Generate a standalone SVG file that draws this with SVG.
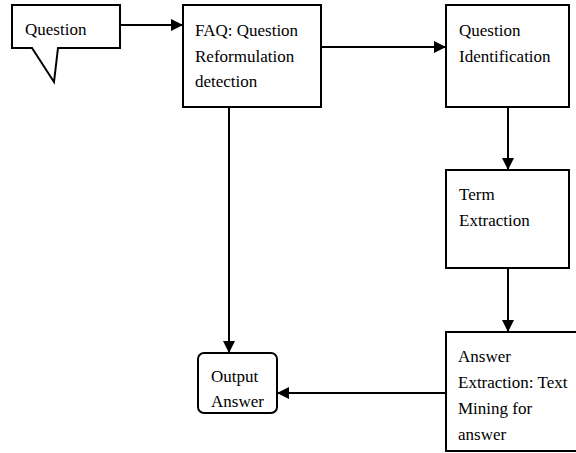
<svg xmlns="http://www.w3.org/2000/svg" width="576" height="453" viewBox="0 0 576 453">
<defs>
<style>
.box{fill:#fff;stroke:#000;stroke-width:2}
.c{fill:none;stroke:#000;stroke-width:2}
</style>
<marker id="ah" viewBox="0 0 12 12" refX="12" refY="6" markerWidth="12" markerHeight="12" markerUnits="userSpaceOnUse" orient="auto">
<path d="M0,0 L12,6 L0,12 Z" fill="#000"/>
</marker>
</defs>
<rect width="576" height="453" fill="#fff"/>
<g id="connectors">
<line class="c" x1="120" y1="25" x2="183" y2="25" marker-end="url(#ah)"/>
<line class="c" x1="321" y1="47" x2="446" y2="47" marker-end="url(#ah)"/>
<line class="c" x1="508" y1="107" x2="508" y2="170" marker-end="url(#ah)"/>
<line class="c" x1="508" y1="268" x2="508" y2="332" marker-end="url(#ah)"/>
<line class="c" x1="229" y1="107" x2="229" y2="353" marker-end="url(#ah)"/>
<line class="c" x1="446" y1="393" x2="277" y2="393" marker-end="url(#ah)"/>
</g>
<g id="question">
<path class="box" d="M12,5 H120 V48 H58 L54,82 L32,48 H12 Z"/>
<text x="25" y="35" font-family="Liberation Serif" font-size="17">Question</text>
</g>
<g id="faq">
<rect class="box" x="183" y="5" width="138" height="102"/>
<text x="195" y="36" font-family="Liberation Serif" font-size="17">FAQ: Question</text>
<text x="195" y="62" font-family="Liberation Serif" font-size="17">Reformulation</text>
<text x="195" y="87" font-family="Liberation Serif" font-size="17">detection</text>
</g>
<g id="qid">
<rect class="box" x="446" y="5" width="123" height="102"/>
<text x="459" y="36" font-family="Liberation Serif" font-size="17">Question</text>
<text x="459" y="62" font-family="Liberation Serif" font-size="17">Identification</text>
</g>
<g id="term">
<rect class="box" x="446" y="170" width="123" height="98"/>
<text x="459" y="200" font-family="Liberation Serif" font-size="17">Term</text>
<text x="459" y="226" font-family="Liberation Serif" font-size="17">Extraction</text>
</g>
<g id="answerext">
<rect class="box" x="446" y="332" width="132" height="119"/>
<text x="458" y="362" font-family="Liberation Serif" font-size="17">Answer</text>
<text x="458" y="388" font-family="Liberation Serif" font-size="17">Extraction: Text</text>
<text x="458" y="414" font-family="Liberation Serif" font-size="17">Mining for</text>
<text x="458" y="440" font-family="Liberation Serif" font-size="17">answer</text>
</g>
<g id="output">
<rect class="box" x="198" y="353" width="79" height="60" rx="6"/>
<text x="211" y="382" font-family="Liberation Serif" font-size="17">Output</text>
<text x="211" y="407" font-family="Liberation Serif" font-size="17">Answer</text>
</g>
</svg>
